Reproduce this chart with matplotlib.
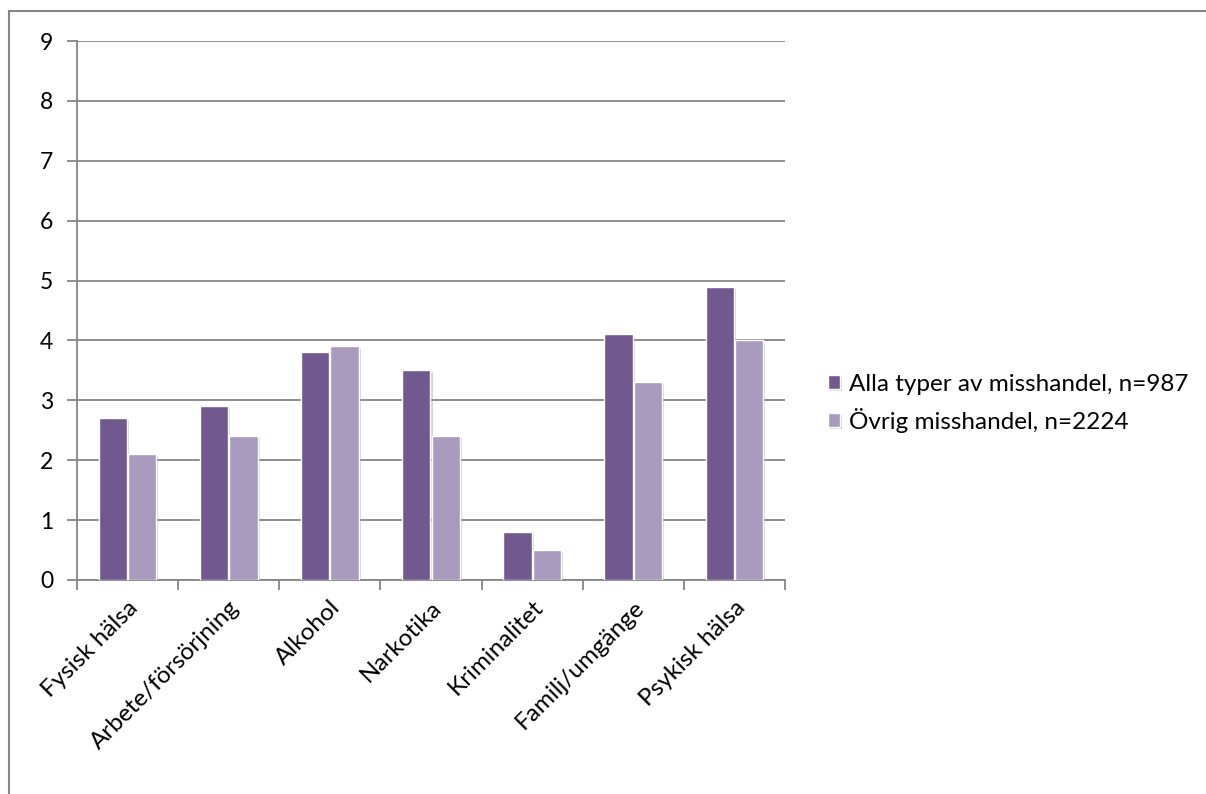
import matplotlib
matplotlib.use('Agg')
import matplotlib.pyplot as plt
import matplotlib.patheffects as pe
import numpy as np
from matplotlib.lines import Line2D

categories = ['Fysisk hälsa', 'Arbete/försörjning', 'Alkohol', 'Narkotika',
              'Kriminalitet', 'Familj/umgänge', 'Psykisk hälsa']
alla = [2.7, 2.9, 3.8, 3.5, 0.8, 4.1, 4.9]
ovrig = [2.1, 2.4, 3.9, 2.4, 0.5, 3.3, 4.0]
series_names = ['Alla typer av misshandel, n=987', 'Övrig misshandel, n=2224']

plt.rcParams['font.family'] = ['Lato', 'DejaVu Sans']

W, H = 1206, 794
fig = plt.figure(figsize=(W / 100, H / 100), dpi=100)
ax = fig.add_axes([77 / W, 1 - 580 / H, (785 - 77) / W, (580 - 41) / H])

x = np.arange(len(categories))
shadow = [pe.SimplePatchShadow(offset=(1.5, -1.5), shadow_rgbFace='#888888', alpha=0.35), pe.Normal()]
b1 = ax.bar(x - 0.145, alla, width=0.28, color='#71588F', edgecolor='white', linewidth=1,
            label=series_names[0], zorder=3)
b2 = ax.bar(x + 0.145, ovrig, width=0.28, color='#A99BBD', edgecolor='white', linewidth=1,
            label=series_names[1], zorder=3)
for p in list(b1) + list(b2):
    p.set_path_effects(shadow)

ax.set_xlim(-0.5, len(categories) - 0.5)
ax.set_ylim(0, 9)
ax.set_yticks(np.arange(0, 10, 1))
ax.yaxis.grid(True, color='#868686', linewidth=1.3, zorder=0)
ax.set_axisbelow(True)

for s in ['top', 'right']:
    ax.spines[s].set_visible(False)
for s in ['left', 'bottom']:
    ax.spines[s].set_color('#868686')
    ax.spines[s].set_linewidth(1.3)

ax.set_xticks(x)
ax.set_xticklabels(categories, rotation=45, ha='right', rotation_mode='anchor', fontsize=17.5)
ax.set_xticks(np.arange(-0.5, len(categories), 1), minor=True)
ax.tick_params(axis='x', which='major', length=0, pad=12)
ax.tick_params(axis='x', which='minor', length=7, width=1.3, color='#868686')
ax.tick_params(axis='y', length=7, width=1.3, color='#868686', labelsize=16.5, pad=10)

leg = ax.legend(loc='center left', bbox_to_anchor=(1.047, 0.328), frameon=False,
                fontsize=17.5, handlelength=0.5, handleheight=0.5, handletextpad=0.35,
                labelspacing=0.55, borderaxespad=0)

# outer chart border (top and left visible)
fig.add_artist(Line2D([9 / W, 1], [1 - 11 / H, 1 - 11 / H], color='#868686', linewidth=1.5))
fig.add_artist(Line2D([9 / W, 9 / W], [0, 1 - 11 / H], color='#868686', linewidth=1.5))

fig.savefig('out.png', dpi=100)
